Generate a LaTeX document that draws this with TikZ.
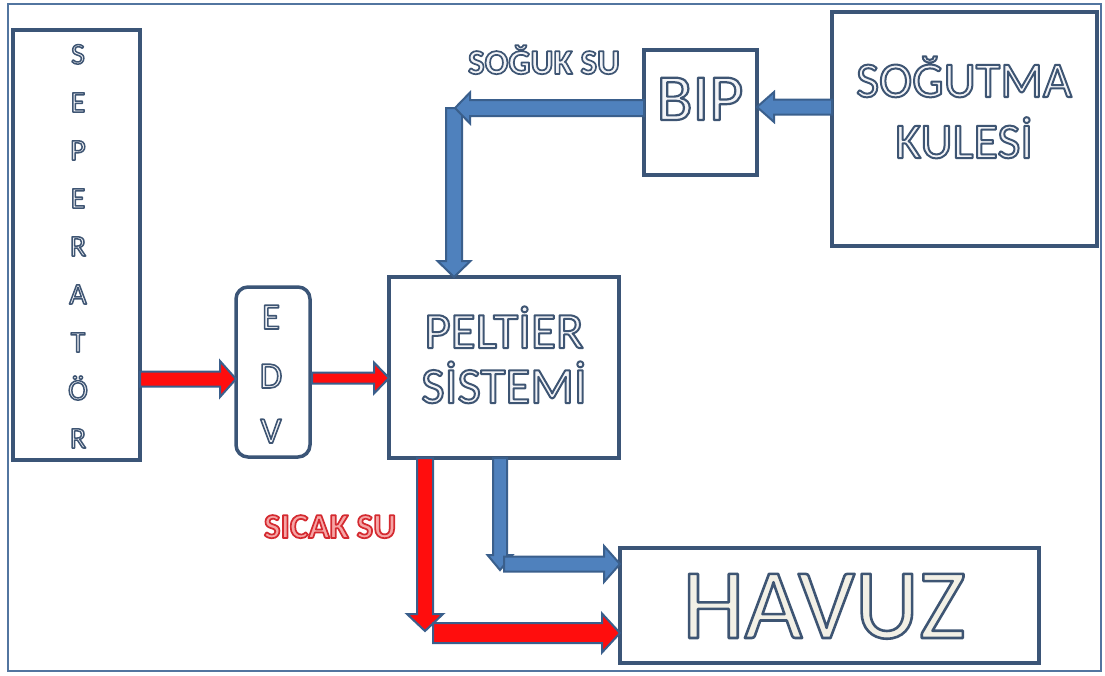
\documentclass[tikz,border=0pt]{standalone}
\usepackage{fontspec}
\setmainfont{Carlito}
\usetikzlibrary{calc}

\definecolor{boxline}{HTML}{3B5577}
\definecolor{frameline}{HTML}{5275A0}
\definecolor{bluefill}{HTML}{4F81BD}
\definecolor{arrline}{HTML}{3A5F8C}
\definecolor{redfill}{HTML}{FF0D0D}
\definecolor{txtfill}{HTML}{F3F4F7}
\definecolor{poolfill}{HTML}{F2F0E6}
\definecolor{hotfill}{HTML}{F6A5A5}

% outlined lettering (fill, then stroke the glyph outlines)
% #1 stroke width (bp), #2 stroke colour as r g b, #3 fill colour, #4 text
\newcommand\outlined[4]{{\color{#3}%
  \special{pdf:literal direct #2 RG #1 w 1 j 2 Tr}#4\special{pdf:literal direct 0 Tr}}}
\newcommand\darkline{0.243 0.333 0.451}
\newcommand\redline{0.831 0.165 0.188}

% block arrow: #1 fill, #2 start, #3 tip, #4 half shaft, #5 half head, #6 head length
\newcommand\blockarrow[6]{%
  \coordinate (ba-b) at ($(#3)!#6!(#2)$);
  \filldraw[arrowline, fill=#1]
    ($(#2)!#4!90:(#3)$) -- ($(ba-b)!#4!90:(#3)$) -- ($(ba-b)!#5!90:(#3)$)
    -- (#3) -- ($(ba-b)!#5!-90:(#3)$) -- ($(ba-b)!#4!-90:(#3)$)
    -- ($(#2)!#4!-90:(#3)$) -- cycle;}

\tikzset{
  box/.style={draw=boxline, line width=3.5pt, inner sep=0pt, outer sep=0pt, fill=white},
  lbl/.style={inner sep=0pt, outer sep=0pt, anchor=base},
  arrowline/.style={draw=arrline, line width=2pt, line join=miter},
  frame/.style={draw=frameline, line width=2pt},
}

\begin{document}
\begin{tikzpicture}[x=1pt,y=-1pt]
\useasboundingbox (0,0) rectangle (1105,675);
\fill[white] (0,0) rectangle (1105,675);
\draw[frame] (8,4) rectangle (1101,671);

% blocks
\node[box, minimum width=127pt, minimum height=430pt] (sep) at (76.5,245) {};
\node[box, rounded corners=12pt, minimum width=74pt, minimum height=170pt] (edv) at (273,372) {};
\node[box, minimum width=230pt, minimum height=181pt] (pel) at (504,367.5) {};
\node[box, minimum width=113pt, minimum height=125pt] (bip) at (700.5,112.5) {};
\node[box, minimum width=265pt, minimum height=234pt] (sog) at (964.5,129) {};
\node[box, minimum width=419pt, minimum height=115pt] (hav) at (829.5,605.5) {};

% block labels
\foreach \ch [count=\i from 0] in {S,E,P,E,R,A,T,Ö,R}
  \node[lbl, font=\fontsize{30}{32}\selectfont] (sepl\i) at (78,64+48*\i)
    {\outlined{1.5}{\darkline}{txtfill}{\ch}};
\node[lbl, font=\fontsize{37}{40}\selectfont] (edv1) at (271,329) {\outlined{1.6}{\darkline}{txtfill}{E}};
\node[lbl, font=\fontsize{37}{40}\selectfont] (edv2) at (271,388) {\outlined{1.6}{\darkline}{txtfill}{D}};
\node[lbl, font=\fontsize{37}{40}\selectfont] (edv3) at (271,443) {\outlined{1.6}{\darkline}{txtfill}{V}};
\node[lbl, font=\fontsize{51}{54}\selectfont] (pel1) at (504,348) {\outlined{2}{\darkline}{txtfill}{PELTİER}};
\node[lbl, font=\fontsize{51}{54}\selectfont] (pel2) at (504,403) {\outlined{2}{\darkline}{txtfill}{SİSTEMİ}};
\node[lbl, font=\fontsize{66}{70}\selectfont] (bipl) at (700,120) {\outlined{2.2}{\darkline}{txtfill}{BIP}};
\node[lbl, font=\fontsize{50}{54}\selectfont] (sog1) at (964,97) {\outlined{2}{\darkline}{txtfill}{SOĞUTMA}};
\node[lbl, font=\fontsize{50}{54}\selectfont] (sog2) at (964,158) {\outlined{2}{\darkline}{txtfill}{KULESİ}};
\node[lbl, font=\fontsize{100}{100}\selectfont] (havl) at (824,638) {\outlined{2.6}{\darkline}{poolfill}{HAVUZ}};

% flow labels
\node[lbl, font=\bfseries\fontsize{35}{38}\selectfont] (cold-l) at (544,74) {\outlined{1.7}{\darkline}{txtfill}{SOĞUK SU}};
\node[lbl, font=\bfseries\fontsize{35}{38}\selectfont] (hot-l) at (330,538) {\outlined{1.7}{\redline}{hotfill}{SICAK SU}};

% levels and bends of the flow lines
\coordinate (ya) at (0,379);
\coordinate (yb) at (0,378);
\coordinate (yc) at (0,107);
\coordinate (yd) at (0,108);
\coordinate (cbend) at (455,108);
\coordinate (cdown) at (454,108);
\coordinate (xr) at (425,0);
\coordinate (hbend) at (425,631);
\coordinate (hstart) at (433,633);
\coordinate (xb) at (500,0);
\coordinate (pbend) at (500,570);
\coordinate (pstart) at (504,564);

\coordinate (a1s) at (sep.east |- ya);
\coordinate (a1e) at (edv.west |- ya);
\coordinate (a2s) at ([xshift=2pt]edv.east |- yb);
\coordinate (a2e) at (pel.west |- yb);
\coordinate (a3s) at (sog.west |- yc);
\coordinate (a3e) at (bip.east |- yc);
\coordinate (a4s) at (bip.west |- yd);
\coordinate (a5e) at (pel.north -| cdown);
\coordinate (a6s) at (pel.south -| xr);
\coordinate (a7e) at (hav.west |- hstart);
\coordinate (a8s) at (pel.south -| xb);
\coordinate (a9e) at (hav.west |- pstart);

% hot line from the separator
\blockarrow{redfill}{a1s}{a1e}{7.5pt}{18pt}{16pt}
\blockarrow{redfill}{a2s}{a2e}{5.5pt}{15.5pt}{15pt}
% cold water loop
\blockarrow{bluefill}{a3s}{a3e}{7.5pt}{15pt}{17pt}
\blockarrow{bluefill}{cdown}{a5e}{8pt}{16.5pt}{16pt}
\blockarrow{bluefill}{a4s}{cbend}{8pt}{15.5pt}{15pt}
% outlets to the pool
\blockarrow{redfill}{a6s}{hbend}{8pt}{18pt}{17pt}
\blockarrow{redfill}{hstart}{a7e}{10pt}{19.5pt}{18pt}
\blockarrow{bluefill}{a8s}{pbend}{7pt}{12.5pt}{15pt}
\blockarrow{bluefill}{pstart}{a9e}{7.5pt}{18pt}{16pt}
\end{tikzpicture}
\end{document}
